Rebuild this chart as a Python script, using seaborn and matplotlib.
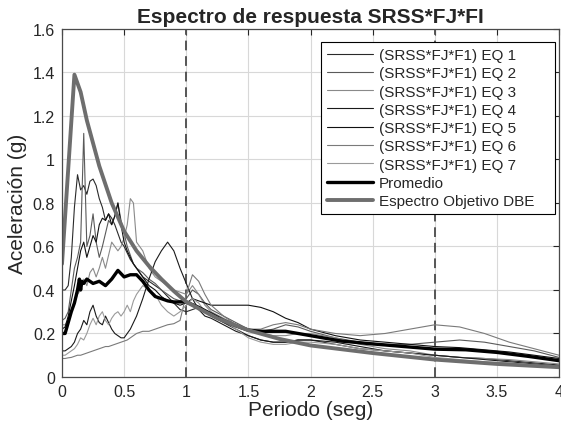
import numpy as np
import pandas as pd
import matplotlib
matplotlib.use("Agg")
import matplotlib.pyplot as plt
from matplotlib.ticker import FuncFormatter
import seaborn as sns

# ----------------------------
# Data
# ----------------------------

periods = [0, 0.025, 0.05, 0.075, 0.1, 0.125, 0.15, 0.175, 0.2, 0.225, 0.25, 0.275, 0.3,
           0.325, 0.35, 0.375, 0.4, 0.425, 0.45, 0.475, 0.5, 0.525, 0.55, 0.575, 0.6,
           0.65, 0.7, 0.75, 0.8, 0.85, 0.9, 0.95, 1.0, 1.05, 1.1, 1.15, 1.2, 1.3, 1.4, 1.5,
           1.6, 1.7, 1.8, 1.9, 2.0, 2.2, 2.4, 2.6, 2.8, 3.0, 3.2, 3.4, 3.6, 3.8, 4.0]

eq1 = [0.40, 0.40, 0.42, 0.55, 0.78, 0.93, 0.86, 0.88, 0.84, 0.90, 0.91, 0.88, 0.82,
       0.78, 0.72, 0.75, 0.73, 0.70, 0.66, 0.62, 0.60, 0.57, 0.54, 0.52, 0.50,
       0.46, 0.44, 0.42, 0.40, 0.37, 0.34, 0.31, 0.30, 0.31, 0.32, 0.30, 0.28, 0.25, 0.22, 0.19,
       0.17, 0.16, 0.16, 0.17, 0.17, 0.15, 0.13, 0.12, 0.11, 0.10, 0.09, 0.085, 0.075, 0.065, 0.055]
eq2 = [0.26, 0.27, 0.30, 0.40, 0.50, 0.55, 0.62, 1.12, 0.60, 0.65, 0.75, 0.62, 0.55,
       0.60, 0.66, 0.72, 0.70, 0.74, 0.80, 0.72, 0.66, 0.60, 0.56, 0.52, 0.50,
       0.48, 0.45, 0.43, 0.40, 0.38, 0.36, 0.35, 0.36, 0.40, 0.38, 0.34, 0.31, 0.28, 0.25, 0.22,
       0.21, 0.22, 0.24, 0.23, 0.21, 0.18, 0.16, 0.15, 0.15, 0.16, 0.17, 0.16, 0.14, 0.12, 0.09]
eq3 = [0.24, 0.24, 0.26, 0.30, 0.34, 0.38, 0.40, 0.45, 0.42, 0.48, 0.50, 0.46, 0.50,
       0.55, 0.50, 0.56, 0.62, 0.60, 0.58, 0.60, 0.64, 0.70, 0.82, 0.80, 0.62,
       0.58, 0.50, 0.46, 0.44, 0.42, 0.40, 0.39, 0.38, 0.42, 0.38, 0.33, 0.30, 0.27, 0.24, 0.22,
       0.20, 0.19, 0.19, 0.20, 0.20, 0.18, 0.15, 0.13, 0.12, 0.10, 0.09, 0.085, 0.08, 0.07, 0.06]
eq4 = [0.12, 0.12, 0.13, 0.14, 0.16, 0.20, 0.22, 0.26, 0.24, 0.30, 0.33, 0.28, 0.25,
       0.24, 0.28, 0.25, 0.22, 0.20, 0.19, 0.18, 0.18, 0.20, 0.22, 0.25, 0.28,
       0.36, 0.45, 0.53, 0.58, 0.62, 0.58, 0.50, 0.43, 0.36, 0.31, 0.28, 0.27, 0.24, 0.21, 0.19,
       0.17, 0.16, 0.16, 0.17, 0.17, 0.16, 0.14, 0.12, 0.11, 0.10, 0.09, 0.08, 0.07, 0.06, 0.05]
eq5 = [0.22, 0.23, 0.28, 0.35, 0.42, 0.50, 0.58, 0.62, 0.55, 0.60, 0.65, 0.62, 0.70,
       0.73, 0.72, 0.75, 0.70, 0.74, 0.80, 0.70, 0.62, 0.58, 0.55, 0.52, 0.50,
       0.46, 0.42, 0.40, 0.37, 0.35, 0.34, 0.33, 0.34, 0.36, 0.35, 0.34, 0.33, 0.33, 0.33, 0.33,
       0.32, 0.30, 0.27, 0.25, 0.22, 0.19, 0.17, 0.16, 0.15, 0.14, 0.135, 0.125, 0.115, 0.10, 0.085]
eq6 = [0.085, 0.085, 0.088, 0.09, 0.095, 0.10, 0.10, 0.105, 0.11, 0.115, 0.12, 0.125, 0.13,
       0.135, 0.14, 0.14, 0.145, 0.15, 0.155, 0.16, 0.165, 0.17, 0.18, 0.19, 0.20,
       0.21, 0.21, 0.22, 0.23, 0.24, 0.245, 0.26, 0.38, 0.47, 0.44, 0.38, 0.33, 0.28, 0.24, 0.22,
       0.22, 0.24, 0.25, 0.24, 0.22, 0.20, 0.19, 0.20, 0.22, 0.24, 0.23, 0.20, 0.16, 0.13, 0.10]
eq7 = [0.10, 0.10, 0.11, 0.12, 0.13, 0.15, 0.18, 0.17, 0.20, 0.24, 0.27, 0.24, 0.28,
       0.30, 0.26, 0.24, 0.27, 0.29, 0.30, 0.28, 0.30, 0.33, 0.30, 0.35, 0.38,
       0.42, 0.40, 0.38, 0.33, 0.30, 0.28, 0.30, 0.33, 0.36, 0.34, 0.30, 0.28, 0.26, 0.22, 0.18,
       0.16, 0.15, 0.15, 0.16, 0.16, 0.15, 0.13, 0.12, 0.11, 0.09, 0.08, 0.07, 0.065, 0.055, 0.045]

mean_periods = [0, 0.025, 0.05, 0.075, 0.1, 0.125, 0.14, 0.15, 0.16, 0.175,
                0.2, 0.25, 0.3, 0.35, 0.4, 0.45, 0.5, 0.55, 0.6, 0.65,
                0.7, 0.75, 0.8, 0.85, 0.9, 1.0, 1.1, 1.2, 1.3, 1.4,
                1.5, 1.6, 1.8, 2.0, 2.25, 2.5, 2.75, 3.0, 3.25, 3.5, 3.75, 4.0]
promedio = [0.20, 0.20, 0.25, 0.30, 0.34, 0.40, 0.45, 0.40, 0.44, 0.43,
            0.45, 0.43, 0.44, 0.42, 0.45, 0.49, 0.46, 0.47, 0.47, 0.44,
            0.40, 0.37, 0.36, 0.35, 0.345, 0.345, 0.32, 0.29, 0.26, 0.235,
            0.215, 0.21, 0.21, 0.19, 0.165, 0.152, 0.14, 0.128, 0.125, 0.113, 0.095, 0.075]

target_periods = [0, 0.1, 0.15, 0.2, 0.3, 0.4, 0.5, 0.6, 0.7, 0.8, 0.9, 1.0,
                  1.25, 1.5, 1.75, 2.0, 2.5, 3.0, 3.5, 4.0]
objetivo = [0.52, 1.39, 1.31, 1.18, 0.97, 0.80, 0.67, 0.58, 0.51, 0.45, 0.395, 0.345,
            0.27, 0.215, 0.175, 0.145, 0.11, 0.08, 0.06, 0.045]

eq_labels = [f"(SRSS*FJ*F1) EQ {i}" for i in range(1, 8)]
eq_colors = ["#2a2a2a", "#5a5a5a", "#8a8a8a", "#1a1a1a", "#111111", "#7a7a7a", "#9a9a9a"]

# ----------------------------
# Plot
# ----------------------------

sns.set_style("white")
plt.rcParams["font.family"] = ["Liberation Sans", "DejaVu Sans"]

fig = plt.figure(figsize=(5.61, 4.27), dpi=100)
ax = fig.add_axes([0.1105, 0.1148, 0.886, 0.815])

for vals, lab, col in zip([eq1, eq2, eq3, eq4, eq5, eq6, eq7], eq_labels, eq_colors):
    sns.lineplot(x=periods, y=vals, ax=ax, color=col, linewidth=0.8, label=lab)

sns.lineplot(x=mean_periods, y=promedio, ax=ax, color="black", linewidth=2.4, label="Promedio")
sns.lineplot(x=target_periods, y=objetivo, ax=ax, color="#6e6e6e", linewidth=2.8,
             label="Espectro Objetivo DBE")

for xv in [1, 3]:
    ax.axvline(xv, color="#555555", linestyle=(0, (5, 3)), linewidth=1.4, zorder=1)

ax.set_xlim(0, 4)
ax.set_ylim(0, 1.6)
ax.set_xticks([0, 0.5, 1, 1.5, 2, 2.5, 3, 3.5, 4])
ax.set_yticks([0, 0.2, 0.4, 0.6, 0.8, 1, 1.2, 1.4, 1.6])
fmt = FuncFormatter(lambda v, p: f"{v:g}")
ax.xaxis.set_major_formatter(fmt)
ax.yaxis.set_major_formatter(fmt)
ax.grid(True, color="#d8d8d8", linewidth=0.8)
ax.set_axisbelow(True)
ax.tick_params(direction="in", length=4, width=0.8, colors="#262626", labelsize=11.5,
               top=True, right=True, pad=5)
for s in ax.spines.values():
    s.set_color("#4a4a4a")
    s.set_linewidth(0.9)

ax.set_title("Espectro de respuesta SRSS*FJ*FI", fontsize=15, fontweight="bold", pad=5)
ax.set_xlabel("Periodo (seg)", fontsize=15, labelpad=1)
ax.set_ylabel("Aceleración (g)", fontsize=15, labelpad=4)

leg = ax.legend(loc="upper left", bbox_to_anchor=(0.521, 0.5, 0.471, 0.463), mode="expand",
                fontsize=11, handlelength=3.0, labelspacing=0.28, handletextpad=0.4,
                borderpad=0.4, borderaxespad=0, fancybox=False, framealpha=1,
                edgecolor="black")
leg.get_frame().set_linewidth(0.8)

plt.savefig("out.png", dpi=100)
plt.close()
